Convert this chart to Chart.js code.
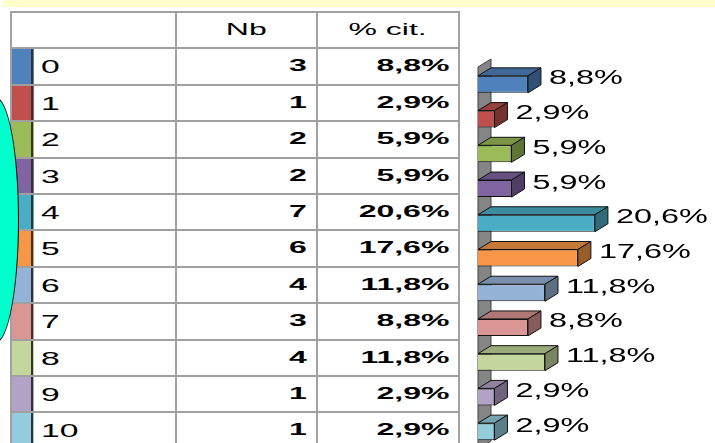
<!DOCTYPE html>
<html>
<head>
<meta charset="utf-8">
<script src="https://cdn.jsdelivr.net/npm/chart.js@4"></script>
<style>
body { margin:0; width:715px; height:443px; overflow:hidden; background:#fff; position:relative; font-family:"Liberation Sans", Arial, sans-serif; }
#strip { position:absolute; left:3px; top:0; width:712px; height:7px; background:#ffffcc; }
#tbl { position:absolute; left:10px; top:11px; background:#a0a0a0; padding:2px 2px 0 2px; display:grid; grid-template-columns:163px 139px 140px; grid-auto-rows:34.4px; gap:2px; }
#tbl div { background:#fff; position:relative; line-height:34.4px; color:#000; white-space:nowrap; }
#tbl .hd { text-align:center; font-size:16px; }
#tbl .hd span { display:inline-block; transform:scaleX(2); transform-origin:center; }
#tbl .lab span { position:absolute; left:29px; top:1px; font-size:18.5px; transform:scaleX(1.82); transform-origin:left; }
#tbl .num { text-align:right; padding-right:9px; font-size:16px; font-weight:bold; }
#tbl .num span { display:inline-block; transform:scaleX(2); transform-origin:right; }
#blob { position:absolute; left:-28px; top:97px; width:45px; height:244px; border-radius:50%; background:#00ffcc; border:1.5px solid #000; z-index:5; }
#myChart { position:absolute; left:460px; top:0; }
</style>
</head>
<body>
<div id="strip"></div>
<div id="tbl"></div>
<div id="blob"></div>
<canvas id="myChart" width="255" height="460"></canvas>
<script>
// values
const labels = ['0', '1', '2', '3', '4', '5', '6', '7', '8', '9', '10'];
const counts = [3, 1, 2, 2, 7, 6, 4, 3, 4, 1, 1];
const percents = [8.8, 2.9, 5.9, 5.9, 20.6, 17.6, 11.8, 8.8, 11.8, 2.9, 2.9];
const colors = ['#4f81bd', '#c0504d', '#9bbb59', '#8064a2', '#4bacc6', '#f79646',
                '#95b3d7', '#d99694', '#c3d69b', '#b3a2c7', '#93cddd'];
const headers = ['', 'Nb', '% cit.'];

const fmt = v => v.toFixed(1).replace('.', ',') + '%';

// table on the left
var tbl = document.getElementById('tbl');
var html = '';
headers.forEach(h => { html += '<div class="hd"><span>' + h + '</span></div>'; });
labels.forEach((lab, i) => {
    var c = colors[i];
    html += '<div class="lab" style="background:linear-gradient(to right,' + c + ' 0 19px,#333 19px 20.5px,' + c +
        ' 20.5px 22px,#fff 22px)"><span>' + lab + '</span></div>';
    html += '<div class="num"><span>' + counts[i] + '</span></div>';
    html += '<div class="num"><span>' + fmt(percents[i]) + '</span></div>';
});
tbl.innerHTML = html;

const shade = (hex, f) => {
    var n = parseInt(hex.slice(1), 16);
    var r = Math.round(((n >> 16) & 255) * f), g = Math.round(((n >> 8) & 255) * f), b = Math.round((n & 255) * f);
    return 'rgb(' + r + ',' + g + ',' + b + ')';
};

const dx = 13, dy = 8;

// fake 3d: grey wall behind, top + side faces and labels after the bars
const bars3d = {
    id: 'bars3d',
    beforeDatasetsDraw(chart) {
        var ctx = chart.ctx, a = chart.chartArea;
        ctx.save();
        ctx.beginPath();
        ctx.moveTo(a.left, a.top);
        ctx.lineTo(a.left + dx, a.top - dy);
        ctx.lineTo(a.left + dx, a.bottom - dy);
        ctx.lineTo(a.left, a.bottom);
        ctx.closePath();
        ctx.fillStyle = '#858585';
        ctx.fill();
        ctx.strokeStyle = '#404040';
        ctx.lineWidth = 1;
        ctx.stroke();
        ctx.restore();
    },
    afterDatasetsDraw(chart) {
        var ctx = chart.ctx;
        chart.getDatasetMeta(0).data.forEach((bar, i) => {
            var top = bar.y - bar.height / 2, bottom = bar.y + bar.height / 2;
            var l = bar.base, r = bar.x;
            ctx.save();
            ctx.strokeStyle = '#111';
            ctx.lineWidth = 1;
            ctx.beginPath();
            ctx.moveTo(l, top);
            ctx.lineTo(l + dx, top - dy);
            ctx.lineTo(r + dx, top - dy);
            ctx.lineTo(r, top);
            ctx.closePath();
            ctx.fillStyle = shade(colors[i], 0.8);
            ctx.fill();
            ctx.stroke();
            ctx.beginPath();
            ctx.moveTo(r, top);
            ctx.lineTo(r + dx, top - dy);
            ctx.lineTo(r + dx, bottom - dy);
            ctx.lineTo(r, bottom);
            ctx.closePath();
            ctx.fillStyle = shade(colors[i], 0.62);
            ctx.fill();
            ctx.stroke();
            ctx.translate(r + dx + 8, bar.y);
            ctx.scale(1.58, 1);
            ctx.font = '20.5px "Liberation Sans", Arial';
            ctx.fillStyle = '#000';
            ctx.textBaseline = 'alphabetic';
            ctx.fillText(fmt(percents[i]), 0, 0);
            ctx.restore();
        });
    }
};

var ctx = document.getElementById('myChart').getContext('2d');

var myChart = new Chart(ctx, {
    type: 'bar',
    data: {
        labels: labels,
        datasets: [{
            data: percents,
            backgroundColor: colors,
            borderColor: '#111',
            borderWidth: 1,
            barPercentage: 0.49,
            categoryPercentage: 1
        }]
    },
    options: {
        indexAxis: 'y',
        responsive: false,
        animation: false,
        layout: { padding: { left: 18, top: 67, right: 10, bottom: 11 } },
        plugins: { legend: { display: false }, tooltip: { enabled: false } },
        scales: {
            x: { display: false, min: 0, max: 40 },
            y: { display: false }
        }
    },
    plugins: [bars3d]
});
</script>
</body>
</html>
